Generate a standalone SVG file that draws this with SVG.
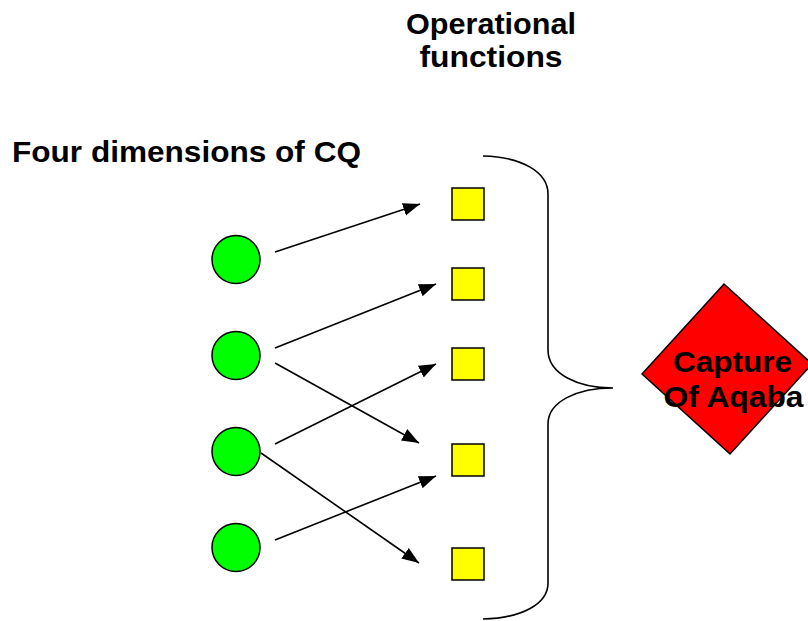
<svg xmlns="http://www.w3.org/2000/svg" width="808" height="621" viewBox="0 0 808 621">
<style>
.t{font-family:"Liberation Sans",Arial,sans-serif;font-weight:bold;fill:#000}
.c{fill:#00FF00;stroke:#000;stroke-width:1.5}
.s{fill:#FFFF00;stroke:#000;stroke-width:1.5}
.e{stroke:#000;stroke-width:1.6;fill:none;marker-end:url(#ah)}
</style>
<defs>
<marker id="ah" markerUnits="userSpaceOnUse" markerWidth="18" markerHeight="14" refX="17" refY="6.5" orient="auto">
<path d="M0,0 L17,6.5 L0,13 z" fill="#000"/>
</marker>
</defs>
<rect width="808" height="621" fill="#fff"/>
<g id="title-ops">
<text class="t" x="491" y="34" font-size="30" text-anchor="middle" textLength="170" lengthAdjust="spacingAndGlyphs">Operational</text>
<text class="t" x="491" y="67" font-size="30" text-anchor="middle" textLength="143" lengthAdjust="spacingAndGlyphs">functions</text>
</g>
<g id="title-cq">
<text class="t" x="12" y="162" font-size="30" textLength="349" lengthAdjust="spacingAndGlyphs">Four dimensions of CQ</text>
</g>
<g id="dim1"><circle class="c" cx="236" cy="259.5" r="24"/></g>
<g id="dim2"><circle class="c" cx="236" cy="355.5" r="24"/></g>
<g id="dim3"><circle class="c" cx="236" cy="451.5" r="24"/></g>
<g id="dim4"><circle class="c" cx="236" cy="547.5" r="24"/></g>
<g id="op1"><rect class="s" x="452" y="188" width="32" height="32"/></g>
<g id="op2"><rect class="s" x="452" y="268" width="32" height="32"/></g>
<g id="op3"><rect class="s" x="452" y="348" width="32" height="32"/></g>
<g id="op4"><rect class="s" x="452" y="444" width="32" height="32"/></g>
<g id="op5"><rect class="s" x="452" y="548" width="32" height="32"/></g>
<g id="connectors">
<line class="e" x1="275" y1="252" x2="420" y2="204"/>
<line class="e" x1="275" y1="348" x2="436" y2="284"/>
<line class="e" x1="275" y1="363" x2="419" y2="443"/>
<line class="e" x1="275" y1="444" x2="436" y2="364"/>
<line class="e" x1="261" y1="453" x2="419" y2="563"/>
<line class="e" x1="275" y1="540" x2="436" y2="476"/>
</g>
<g id="brace">
<path d="M483,156 C522,157 548,172 548,194 L548,350 C548,374 578,388 613,388 C578,388 548,401 548,424 L548,583 C548,604 522,618 483,619" fill="none" stroke="#000" stroke-width="1.6"/>
</g>
<g id="goal">
<polygon points="724,284 812,364 730,454 642,374" fill="#FF0000" stroke="#000" stroke-width="1.5"/>
<text class="t" x="732.5" y="371.5" font-size="30" text-anchor="middle" textLength="119" lengthAdjust="spacingAndGlyphs">Capture</text>
<text class="t" x="733.5" y="407" font-size="30" text-anchor="middle" textLength="140" lengthAdjust="spacingAndGlyphs">Of Aqaba</text>
</g>
</svg>
